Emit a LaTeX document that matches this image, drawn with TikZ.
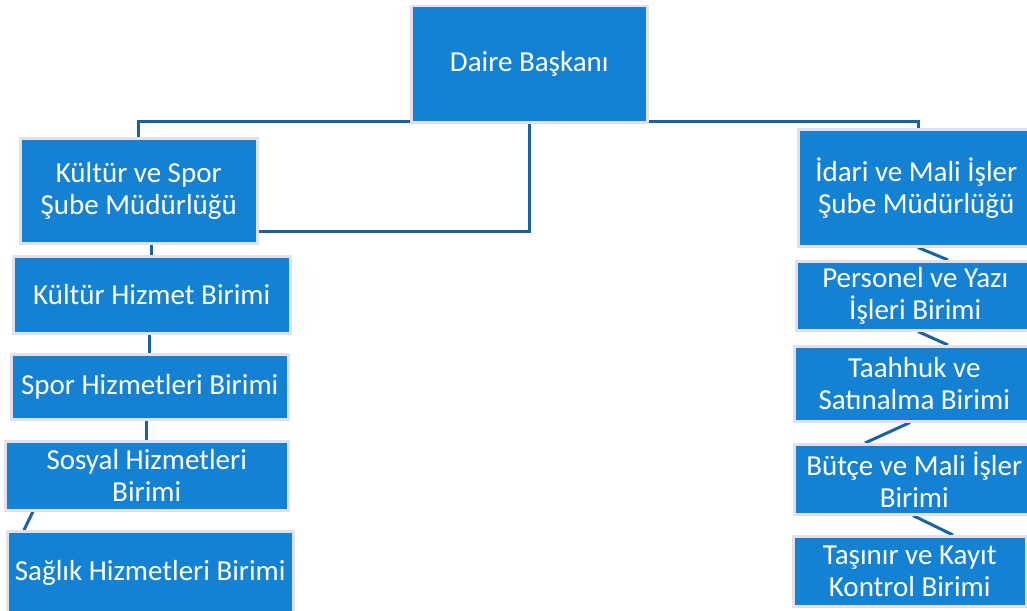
\documentclass[tikz,border=0pt]{standalone}
\usepackage{fontspec}
\setmainfont{Carlito}
\usetikzlibrary{backgrounds}
\definecolor{boxblue}{RGB}{21,129,211}
\definecolor{boxrim}{RGB}{228,224,234}
\definecolor{linkblue}{RGB}{24,98,164}
\begin{document}
\begin{tikzpicture}[x=1pt,y=-1pt,
    box/.style={draw=boxrim,line width=2.5pt,fill=boxblue,text=white,
      anchor=north west,inner sep=0pt,align=center,
      font=\fontsize{29}{32}\selectfont},
    link/.style={draw=linkblue,line width=3pt}]
    \useasboundingbox (0,0) rectangle (1027,610);
    \node[box,minimum width=236pt,minimum height=116pt] (daire) at (410,5) {Daire Başkanı};
    % left branch
    \node[box,minimum width=237pt,minimum height=105pt] (kspor) at (19,137) {Kültür ve Spor\\Şube Müdürlüğü};
    \node[box,minimum width=277pt,minimum height=77pt] (khizmet) at (12,255) {Kültür Hizmet Birimi};
    \node[box,minimum width=277pt,minimum height=65pt] (spor) at (10,353) {Spor Hizmetleri Birimi};
    \node[box,minimum width=283pt,minimum height=69pt] (sosyal) at (4,440) {Sosyal Hizmetleri\\Birimi};
    \node[box,minimum width=286pt,minimum height=84pt] (saglik) at (6,530) {Sağlık Hizmetleri Birimi};
    % right branch
    \node[box,minimum width=236pt,minimum height=117pt] (idari) at (797,128) {İdari ve Mali İşler\\Şube Müdürlüğü};
    \node[box,minimum width=238pt,minimum height=69pt] (personel) at (795,260) {Personel ve Yazı\\İşleri Birimi};
    \node[box,minimum width=240pt,minimum height=75pt] (taahhuk) at (793,345) {Taahhuk ve\\Satınalma Birimi};
    \node[box,minimum width=240pt,minimum height=70pt] (butce) at (793,443) {Bütçe ve Mali İşler\\Birimi};
    \node[box,minimum width=233pt,minimum height=70pt] (tasinir) at (792,535) {Taşınır ve Kayıt\\Kontrol Birimi};
    \begin{pgfonlayer}{background}
      \draw[link] (kspor.north) -- ++(0,-16) -| ([xshift=2pt]idari.north);
      \draw[link] (daire.south) |- ([yshift=13pt]kspor.south east);
      \draw[link] (khizmet.north) -- (kspor.south -| khizmet.north);
      \draw[link] (spor.north) -- (khizmet.south -| spor.north);
      \draw[link] (sosyal.north) -- (spor.south -| sosyal.north);
      \draw[link] ([xshift=29pt]sosyal.south west) -- ([xshift=18pt]saglik.north west);
      \draw[link] ([xshift=121pt]idari.south west) -- ([xshift=153pt]personel.north west);
      \draw[link] ([xshift=123pt]personel.south west) -- ([xshift=155pt]taahhuk.north west);
      \draw[link] ([xshift=117pt]taahhuk.south west) -- ([xshift=72pt]butce.north west);
      \draw[link] ([xshift=120pt]butce.south west) -- ([xshift=161pt]tasinir.north west);
    \end{pgfonlayer}
\end{tikzpicture}
\end{document}
